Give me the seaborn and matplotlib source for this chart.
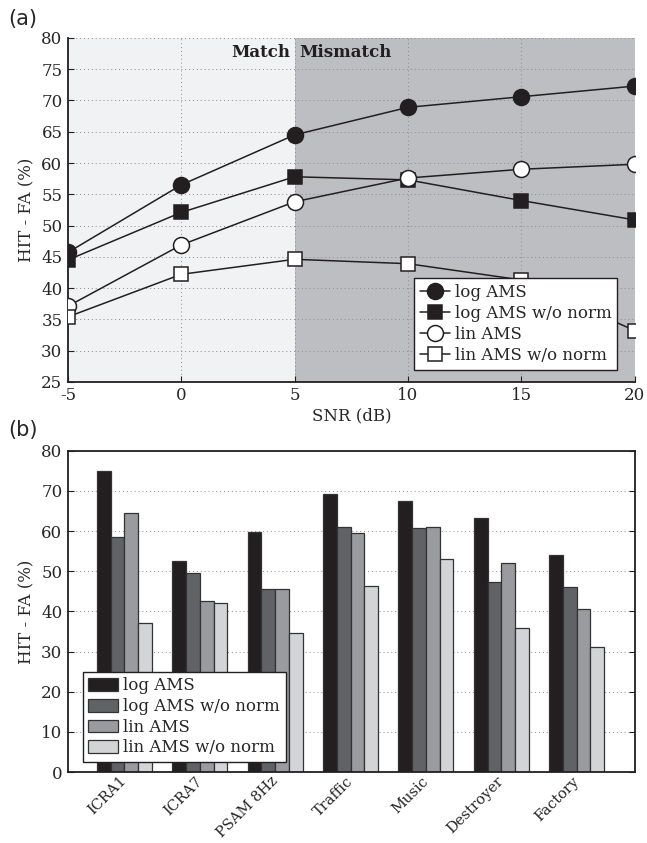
import matplotlib
matplotlib.use("Agg")
import matplotlib.pyplot as plt
import pandas as pd
import seaborn as sns

# data (a): detection score vs SNR
snr = [-5, 0, 5, 10, 15, 20]
log_ams = [45.7, 56.5, 64.5, 68.9, 70.6, 72.3]
log_ams_nonorm = [44.5, 52.1, 57.8, 57.3, 54.0, 50.9]
lin_ams = [37.1, 46.9, 53.8, 57.6, 59.0, 59.8]
lin_ams_nonorm = [35.4, 42.2, 44.6, 43.9, 41.3, 33.2]

# data (b): per noise type
noises = ["ICRA1", "ICRA7", "PSAM 8Hz", "Traffic", "Music", "Destroyer", "Factory"]
bar_log = [75.0, 52.6, 59.9, 69.2, 67.4, 63.2, 54.0]
bar_log_nonorm = [58.6, 49.6, 45.5, 61.1, 60.7, 47.4, 46.0]
bar_lin = [64.5, 42.7, 45.5, 59.6, 61.0, 52.0, 40.5]
bar_lin_nonorm = [37.0, 42.0, 34.7, 46.4, 53.0, 35.9, 31.1]

labels = ["log AMS", "log AMS w/o norm", "lin AMS", "lin AMS w/o norm"]
bar_colors = ["#231f20", "#616266", "#9a9b9f", "#d3d4d6"]
ink = "#231f20"
fs = 12

sns.set_style("ticks")
plt.rcParams["font.family"] = ["DejaVu Serif"]
plt.rcParams["font.size"] = fs
plt.rcParams["axes.unicode_minus"] = False

fig = plt.figure(figsize=(6.47, 8.43), dpi=100)
ax1 = fig.add_axes([0.105, 0.547, 0.876, 0.408])
ax2 = fig.add_axes([0.105, 0.0842, 0.876, 0.381])

# ---- (a) line chart
ax1.axvspan(-5, 5, color="#f1f2f4", zorder=0, lw=0)
ax1.axvspan(5, 20, color="#bdbec2", zorder=0, lw=0)

styles = [("o", ink, 11.5), ("s", ink, 9.5), ("o", "white", 11.5), ("s", "white", 9.5)]
series = [log_ams, log_ams_nonorm, lin_ams, lin_ams_nonorm]
for vals, lab, (m, fc, ms) in zip(series, labels, styles):
    sns.lineplot(x=snr, y=vals, ax=ax1, color=ink, lw=1.1, marker=m, markersize=ms,
                 markerfacecolor=fc, markeredgecolor=ink, markeredgewidth=1.1,
                 label=lab, zorder=3)

ax1.set_xlim(-5, 20)
ax1.set_ylim(25, 80)
ax1.set_xticks(snr)
ax1.set_yticks(range(25, 81, 5))
ax1.grid(True, ls=(0, (1, 3)), color="#8a8a8a", lw=0.7)
ax1.set_axisbelow(True)
for s in ["top", "right"]:
    ax1.spines[s].set_visible(False)
for s in ["left", "bottom"]:
    ax1.spines[s].set_color(ink)
    ax1.spines[s].set_linewidth(1.3)
ax1.tick_params(direction="in", length=4, color=ink, labelsize=fs, pad=4)
ax1.set_xlabel("SNR (dB)", fontsize=fs, labelpad=2)
ax1.set_ylabel("HIT - FA (%)", fontsize=fs, labelpad=4)
leg1 = ax1.legend(loc="lower right", bbox_to_anchor=(0.975, 0.025), fancybox=False,
                  edgecolor=ink, framealpha=1, handlelength=1.8, labelspacing=0.25,
                  handletextpad=0.3, borderpad=0.35, borderaxespad=0.2, fontsize=fs)
leg1.get_frame().set_linewidth(1.0)
leg1.set_zorder(10)
ax1.text(4.8, 77.7, "Match", ha="right", va="center", fontsize=fs, fontweight="bold", color=ink)
ax1.text(5.2, 77.7, "Mismatch", ha="left", va="center", fontsize=fs, fontweight="bold", color=ink)

# ---- (b) bar chart
df = pd.DataFrame({
    "noise": noises * 4,
    "method": [l for l in labels for _ in noises],
    "score": bar_log + bar_log_nonorm + bar_lin + bar_lin_nonorm,
})
sns.barplot(data=df, x="noise", y="score", hue="method", order=noises, hue_order=labels,
            palette=bar_colors, width=0.73, gap=0, edgecolor="#333333", linewidth=0.9,
            saturation=1, ax=ax2, zorder=2)
ax2.set_xlim(-0.75, 6.77)
ax2.set_ylim(0, 80)
ax2.set_yticks(range(0, 81, 10))
ax2.yaxis.grid(True, ls=(0, (1, 3)), color="#8a8a8a", lw=0.7)
ax2.set_axisbelow(True)
for s in ax2.spines.values():
    s.set_color(ink)
    s.set_linewidth(1.3)
ax2.tick_params(axis="y", direction="in", length=4, color=ink, right=True, labelsize=fs, pad=4)
ax2.tick_params(axis="x", length=0, labelsize=10.5, pad=5)
for t in ax2.get_xticklabels():
    t.set_rotation(45)
    t.set_ha("right")
    t.set_va("center")
    t.set_rotation_mode("anchor")
ax2.set_xlabel("")
ax2.set_ylabel("HIT - FA (%)", fontsize=fs, labelpad=4)
leg2 = ax2.legend(loc="lower left", bbox_to_anchor=(0.02, 0.02), fancybox=False,
                  edgecolor=ink, framealpha=1, handlelength=1.8, handleheight=0.8,
                  labelspacing=0.22, handletextpad=0.3, borderpad=0.35, borderaxespad=0.2,
                  fontsize=fs)
leg2.get_frame().set_linewidth(1.0)

fig.text(0.012, 0.977, "(a)", fontsize=15, family="DejaVu Sans", va="center")
fig.text(0.012, 0.490, "(b)", fontsize=15, family="DejaVu Sans", va="center")

fig.savefig("out.png", dpi=100)
